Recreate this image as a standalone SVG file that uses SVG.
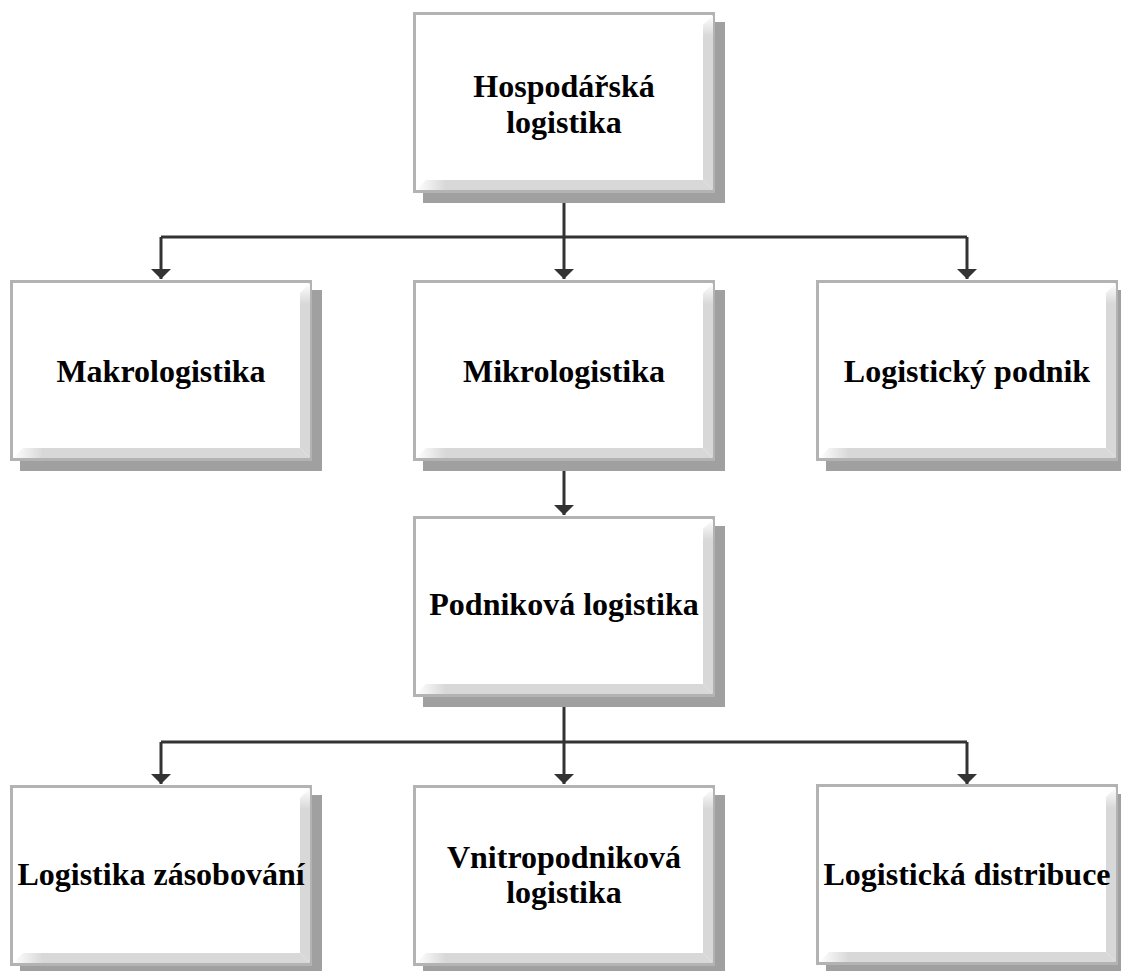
<svg xmlns="http://www.w3.org/2000/svg" xmlns:xlink="http://www.w3.org/1999/xlink" width="1121" height="971" viewBox="0 0 1121 971">
<style>
.lbl{font-family:"Liberation Serif","Times New Roman",serif;font-weight:bold;font-size:32px;fill:#000;text-anchor:middle}
.conn{fill:none;stroke:#333;stroke-width:3}
</style>
<defs>
<linearGradient id="gR" x1="0" y1="0" x2="0" y2="1">
<stop offset="0" stop-color="#ffffff"/><stop offset="0.12" stop-color="#d8d8d8"/><stop offset="1" stop-color="#d8d8d8"/>
</linearGradient>
<linearGradient id="gB" x1="0" y1="0" x2="1" y2="0">
<stop offset="0" stop-color="#ffffff"/><stop offset="0.1" stop-color="#d8d8d8"/><stop offset="1" stop-color="#d8d8d8"/>
</linearGradient>
<g id="box">
<rect x="10" y="10" width="302" height="181" fill="#a0a0a0"/>
<rect x="1.5" y="1.5" width="299" height="178" fill="#ffffff" stroke="#b3b3b3" stroke-width="3"/>
<polygon points="300,3 300,178 290,168 290,13" fill="url(#gR)"/>
<polygon points="3,178 300,178 290,168 13,168" fill="url(#gB)"/>
</g>
<marker id="arr" viewBox="0 0 10 20" markerWidth="10" markerHeight="20" refX="10" refY="10" orient="auto" markerUnits="userSpaceOnUse">
<path d="M0,0 L10,10 L0,20 z" fill="#333"/>
</marker>
</defs>
<g id="connectors">
<path class="conn" d="M564,193 V237"/>
<path class="conn" d="M161,237 H967"/>
<path class="conn" d="M161,237 V279" marker-end="url(#arr)"/>
<path class="conn" d="M564,237 V279" marker-end="url(#arr)"/>
<path class="conn" d="M967,237 V279" marker-end="url(#arr)"/>
<path class="conn" d="M564,462 V515" marker-end="url(#arr)"/>
<path class="conn" d="M564,697 V742"/>
<path class="conn" d="M161,742 H967"/>
<path class="conn" d="M161,742 V784" marker-end="url(#arr)"/>
<path class="conn" d="M564,742 V784" marker-end="url(#arr)"/>
<path class="conn" d="M967,742 V784" marker-end="url(#arr)"/>
</g>
<g id="hospodarska">
<use xlink:href="#box" x="413" y="12"/>
<text class="lbl" x="564" y="97">Hospodářská</text>
<text class="lbl" x="564" y="133">logistika</text>
</g>
<g id="makro">
<use xlink:href="#box" x="10" y="280"/>
<text class="lbl" x="161" y="382">Makrologistika</text>
</g>
<g id="mikro">
<use xlink:href="#box" x="413" y="280"/>
<text class="lbl" x="564" y="382">Mikrologistika</text>
</g>
<g id="logpodnik">
<use xlink:href="#box" x="816" y="280"/>
<text class="lbl" x="967" y="382">Logistický podnik</text>
</g>
<g id="podnikova">
<use xlink:href="#box" x="413" y="516"/>
<text class="lbl" x="564" y="615">Podniková logistika</text>
</g>
<g id="zasobovani">
<use xlink:href="#box" x="10" y="785"/>
<text class="lbl" x="161" y="885">Logistika zásobování</text>
</g>
<g id="vnitropodnikova">
<use xlink:href="#box" x="413" y="785"/>
<text class="lbl" x="564" y="868">Vnitropodniková</text>
<text class="lbl" x="564" y="903">logistika</text>
</g>
<g id="distribuce">
<use xlink:href="#box" x="816" y="784"/>
<text class="lbl" x="967" y="885">Logistická distribuce</text>
</g>
</svg>
